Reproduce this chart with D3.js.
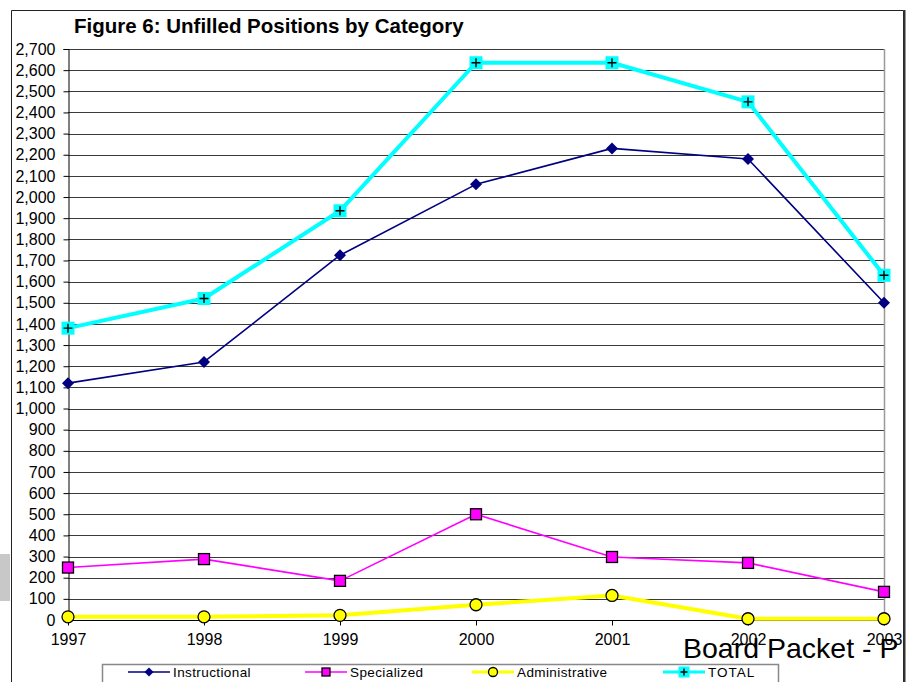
<!DOCTYPE html>
<html>
<head>
<meta charset="utf-8">
<script src="https://cdn.jsdelivr.net/npm/d3@7"></script>
<style>
  html, body { margin: 0; padding: 0; background: #fff; }
  svg { display: block; font-family: "Liberation Sans", Arial, sans-serif; }
</style>
</head>
<body>
<svg id="chart" width="906" height="682"></svg>
<script>
// Unfilled positions by category, 1997-2003
const years = ["1997", "1998", "1999", "2000", "2001", "2002", "2003"];
const instructional = [1120, 1220, 1725, 2060, 2230, 2180, 1500];
const specialized   = [248, 288, 185, 500, 298, 270, 133];
const administrative = [15, 15, 22, 72, 116, 6, 6];
const total = [1380, 1520, 1935, 2635, 2635, 2450, 1630];
const seriesNames = ["Instructional", "Specialized", "Administrative", "TOTAL"];
const yTicks = d3.range(0, 2701, 100);

const svg = d3.select("#chart");
const W = 906, H = 682;
const plot = { left: 68, right: 884, top: 49, bottom: 620 };

const x = d3.scalePoint().domain(years).range([plot.left, plot.right]);
const y = d3.scaleLinear().domain([0, 2700]).range([plot.bottom, plot.top]);

// small grey tab on the left page edge
svg.append("rect").attr("x", 0).attr("y", 554).attr("width", 10).attr("height", 47).attr("fill", "#c8c8c8");

// outer chart frame
svg.append("path")
  .attr("d", `M11.5,${H} V10.5 H903.5 V${H}`)
  .attr("fill", "none").attr("stroke", "#222").attr("stroke-width", 1);
svg.append("line").attr("x1", 904.5).attr("x2", 904.5).attr("y1", 10).attr("y2", H)
  .attr("stroke", "#333").attr("stroke-width", 2);

// title
svg.append("text").attr("x", 74).attr("y", 33)
  .attr("font-size", 20.5).attr("font-weight", "bold").attr("fill", "#000")
  .text("Figure 6: Unfilled Positions by Category");

// horizontal gridlines
svg.append("g").selectAll("line").data(yTicks.filter(d => d > 0)).join("line")
  .attr("x1", plot.left).attr("x2", plot.right)
  .attr("y1", d => Math.round(y(d)) + 0.5).attr("y2", d => Math.round(y(d)) + 0.5)
  .attr("stroke", "#3a3a3a").attr("stroke-width", 1.2);

// right edge of plot area
svg.append("line").attr("x1", plot.right + 0.5).attr("x2", plot.right + 0.5)
  .attr("y1", plot.top).attr("y2", plot.bottom)
  .attr("stroke", "#999").attr("stroke-width", 1.5);

// y axis
const yAxis = d3.axisLeft(y).tickValues(yTicks).tickFormat(d3.format(",")).tickSize(5).tickPadding(8);
const gy = svg.append("g").attr("transform", `translate(${plot.left + 0.5},0)`).call(yAxis);
gy.select(".domain").attr("stroke", "#000");
gy.selectAll(".tick line").attr("stroke", "#000");
gy.selectAll(".tick text").attr("font-size", 16).attr("fill", "#000")
  .attr("font-family", "'Liberation Sans', Arial, sans-serif");

// x axis
const xAxis = d3.axisBottom(x).tickSize(5).tickPadding(8);
const gx = svg.append("g").attr("transform", `translate(0,${plot.bottom + 0.5})`).call(xAxis);
gx.select(".domain").attr("stroke", "#000").attr("d", `M${plot.left},0H${plot.right}`);
gx.selectAll(".tick line").attr("stroke", "#000");
gx.selectAll(".tick text").attr("font-size", 16).attr("fill", "#000")
  .attr("font-family", "'Liberation Sans', Arial, sans-serif");

const line = d3.line().x((d, i) => x(years[i])).y(d => y(d));
const g = svg.append("g");

function drawMarker(sel, kind, s) {
  if (kind === "diamond") {
    sel.append("path").attr("d", `M0,${-s}L${s},0L0,${s}L${-s},0Z`).attr("fill", "#000080");
  } else if (kind === "square") {
    sel.append("rect").attr("x", -s).attr("y", -s).attr("width", 2 * s).attr("height", 2 * s)
      .attr("fill", "#ff00ff").attr("stroke", "#000").attr("stroke-width", 1.3);
  } else if (kind === "circle") {
    sel.append("circle").attr("r", s).attr("fill", "#ffff00").attr("stroke", "#000").attr("stroke-width", 1.3);
  } else if (kind === "plus") {
    sel.append("rect").attr("x", -s).attr("y", -s).attr("width", 2 * s).attr("height", 2 * s).attr("fill", "#00ffff");
    sel.append("path").attr("d", `M${-s + 2},0H${s - 2}M0,${-s + 2}V${s - 2}`)
      .attr("stroke", "#000").attr("stroke-width", 1.4);
  }
}

const series = [
  { name: seriesNames[0], values: instructional, color: "#000080", width: 1.6, marker: "diamond", size: 6 },
  { name: seriesNames[1], values: specialized, color: "#ff00ff", width: 1.6, marker: "square", size: 5.5 },
  { name: seriesNames[2], values: administrative, color: "#ffff00", width: 4, marker: "circle", size: 6 },
  { name: seriesNames[3], values: total, color: "#00ffff", width: 4, marker: "plus", size: 6.5 }
];

series.forEach(s => {
  g.append("path").datum(s.values).attr("d", line)
    .attr("fill", "none").attr("stroke", s.color).attr("stroke-width", s.width)
    .attr("stroke-linejoin", "round");
});
series.forEach(s => {
  s.values.forEach((v, i) => {
    const m = g.append("g").attr("transform", `translate(${x(years[i])},${y(v)})`);
    drawMarker(m, s.marker, s.size);
  });
});

// legend
const lg = svg.append("g");
lg.append("rect").attr("x", 102.5).attr("y", 664.5).attr("width", 676).attr("height", 30)
  .attr("fill", "#fff").attr("stroke", "#888").attr("stroke-width", 1.5);
const legendX = [128, 305, 472, 663];
const legendSizes = [4.5, 4, 4.5, 5.5];
series.forEach((s, i) => {
  const lx = legendX[i], ly = 672;
  lg.append("line").attr("x1", lx).attr("x2", lx + 42).attr("y1", ly).attr("y2", ly)
    .attr("stroke", s.color).attr("stroke-width", s.width > 2 ? 3 : 1.5);
  const m = lg.append("g").attr("transform", `translate(${lx + 21},${ly})`);
  drawMarker(m, s.marker, legendSizes[i]);
  lg.append("text").attr("x", lx + 45).attr("y", ly + 5).attr("font-size", 13.5)
    .attr("letter-spacing", i === 3 ? 1 : 0.4).attr("fill", "#000").text(s.name);
});

// page footer text overlapping the chart
svg.append("text").attr("x", 683).attr("y", 658).attr("font-size", 28.5).attr("fill", "#000")
  .text("Board Packet - P");
</script>
</body>
</html>
